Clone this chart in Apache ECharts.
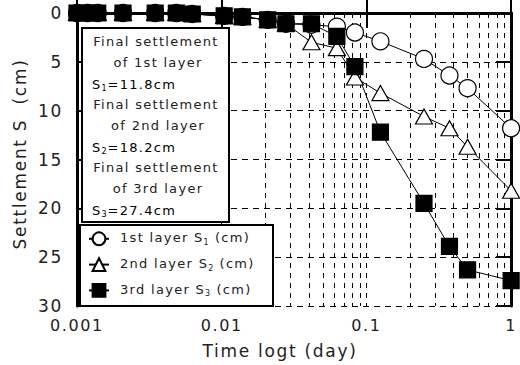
<!DOCTYPE html>
<html>
<head>
<meta charset="utf-8">
<script src="https://cdn.jsdelivr.net/npm/echarts@6/dist/echarts.min.js"></script>
<style>
  html, body { margin: 0; padding: 0; background: #fff; }
  #chart { width: 520px; height: 365px; }
  /* the source chart uses widely spaced lettering */
  #chart text { letter-spacing: 0.1em; }
</style>
</head>
<body>
<div id="chart"></div>
<script>
// time in days
var times = [0.001, 0.00118, 0.00139, 0.00208, 0.00347, 0.00486, 0.00625, 0.0104, 0.0139, 0.0208,
  0.0278, 0.0417, 0.0625, 0.0833, 0.125, 0.25, 0.375, 0.5, 1];
// settlement in cm
var layer1 = [0, 0, 0, 0, 0, 0, 0.1, 0.3, 0.4, 0.7, 1.1, 1.2, 1.4, 2.0, 2.9, 4.7, 6.4, 7.7, 11.8];
var layer2 = [0, 0, 0, 0, 0, 0, 0.1, 0.3, 0.4, 0.7, 1.1, 3.0, 3.6, 6.6, 8.2, 10.6, 11.8, 13.7, 18.2];
var layer3 = [0, 0, 0, 0, 0, 0, 0.1, 0.3, 0.4, 0.7, 1.1, 1.1, 2.4, 5.5, 12.2, 19.5, 23.9, 26.3, 27.4];

var layerNames = ['1st layer', '2nd layer', '3rd layer'];
var finalSettlement = [11.8, 18.2, 27.4];
var xTickLabels = ['0.001', '0.01', '0.1', '1'];
var decades = [0.001, 0.01, 0.1];
var minorSteps = [1, 2, 3, 4, 5, 6, 7, 8, 9];

var FONT = '"DejaVu Sans", Verdana, sans-serif';
var INK = '#222';
var SPACING = 0.1; // em, same as the css rule above

// make text measuring agree with the spaced lettering
var measureCtx = document.createElement('canvas').getContext('2d');
echarts.setPlatformAPI({
  measureText: function (text, font) {
    measureCtx.font = font;
    var m = measureCtx.measureText(text);
    var px = /(\d+(\.\d+)?)px/.exec(font);
    var size = px ? parseFloat(px[1]) : 12;
    return {
      width: m.width + size * SPACING * text.length,
      actualBoundingBoxAscent: m.actualBoundingBoxAscent,
      actualBoundingBoxDescent: m.actualBoundingBoxDescent,
      actualBoundingBoxLeft: m.actualBoundingBoxLeft,
      actualBoundingBoxRight: m.actualBoundingBoxRight
    };
  }
});

var gridTimes = [];
decades.forEach(function (d) {
  minorSteps.forEach(function (m) {
    gridTimes.push({ xAxis: d * m });
  });
});

var chart = echarts.init(document.getElementById('chart'), null, { renderer: 'svg' });

function subRich(size) {
  return {
    t: { fontFamily: FONT, fontSize: size, color: INK, lineHeight: 16, verticalAlign: 'top' },
    s: { fontFamily: FONT, fontSize: 8, color: INK, lineHeight: 10, verticalAlign: 'bottom', padding: [10, 0, 0, 0] }
  };
}

// text box with final settlements
var boxTexts = [];
layerNames.forEach(function (name, i) {
  var y0 = 41 + i * 63;
  boxTexts.push({
    type: 'text', x: 156, y: y0, z: 6,
    style: { text: 'Final settlement', font: '13px ' + FONT, fill: INK, textAlign: 'center', textVerticalAlign: 'middle' }
  });
  boxTexts.push({
    type: 'text', x: 158, y: y0 + 21, z: 6,
    style: { text: 'of ' + name, font: '13px ' + FONT, fill: INK, textAlign: 'center', textVerticalAlign: 'middle' }
  });
  boxTexts.push({
    type: 'text', x: 92, y: y0 + 44, z: 6,
    style: {
      text: '{t|S}{s|' + (i + 1) + '}{t|=' + finalSettlement[i].toFixed(1) + 'cm}',
      rich: subRich(13), textAlign: 'left', textVerticalAlign: 'middle'
    }
  });
});

function lineSeries(name, data, symbol, size, fill) {
  return {
    name: name,
    type: 'line',
    data: times.map(function (t, i) { return [t, data[i]]; }),
    symbol: symbol,
    symbolSize: size,
    showAllSymbol: true,
    lineStyle: { color: '#000', width: 1 },
    itemStyle: { color: fill, borderColor: '#000', borderWidth: 1.2 },
    emphasis: { disabled: true },
    clip: false,
    z: 2
  };
}

var series = [
  lineSeries(layerNames[0], layer1, 'circle', 17, '#fff'),
  lineSeries(layerNames[1], layer2, 'triangle', [17, 15], '#fff'),
  lineSeries(layerNames[2], layer3, 'rect', 16, '#000')
];
series[0].markLine = {
  silent: true,
  symbol: 'none',
  label: { show: false },
  lineStyle: { color: '#000', width: 1, type: [5, 5] },
  data: gridTimes,
  z: 1
};

var option = {
  animation: false,
  backgroundColor: '#fff',
  grid: { left: 77, right: 5, top: 13, bottom: 59 },
  xAxis: [{
    type: 'log',
    logBase: 10,
    min: 0.001,
    max: 1,
    axisLine: { lineStyle: { color: '#000', width: 3 } },
    axisTick: { inside: true, length: 15, lineStyle: { color: '#000', width: 2 } },
    axisLabel: {
      color: INK, fontFamily: FONT, fontSize: 16, margin: 11,
      formatter: function (v) { return xTickLabels[Math.round(Math.log10(v)) + 3]; }
    },
    splitLine: { show: false }
  }, {
    type: 'log',
    logBase: 10,
    position: 'top',
    min: 0.001,
    max: 1,
    axisLine: { lineStyle: { color: '#000', width: 3 } },
    axisTick: { inside: true, length: 15, lineStyle: { color: '#000', width: 2 } },
    axisLabel: { show: false },
    splitLine: { show: false }
  }],
  yAxis: [{
    type: 'value',
    inverse: true,
    min: 0,
    max: 30,
    interval: 5,
    axisLine: { show: true, lineStyle: { color: '#000', width: 3 } },
    axisTick: { show: true, inside: true, length: 15, lineStyle: { color: '#000', width: 2 } },
    axisLabel: { color: INK, fontFamily: FONT, fontSize: 17, margin: 14 },
    splitLine: { show: true, lineStyle: { color: '#000', width: 1, type: [6, 5] } }
  }, {
    type: 'value',
    position: 'right',
    inverse: true,
    min: 0,
    max: 30,
    interval: 5,
    axisLine: { show: true, lineStyle: { color: '#000', width: 3 } },
    axisTick: { show: true, inside: true, length: 15, lineStyle: { color: '#000', width: 2 } },
    axisLabel: { show: false },
    splitLine: { show: false }
  }],
  legend: {
    orient: 'vertical',
    left: 83,
    top: 223,
    itemWidth: 20,
    itemHeight: 16,
    itemGap: 7,
    z: 6,
    selectedMode: false,
    data: layerNames,
    formatter: function (name) {
      var i = layerNames.indexOf(name) + 1;
      return '{t|' + name + ' S}{s|' + i + '}{t| (cm)}';
    },
    textStyle: { rich: subRich(13), padding: [0, 0, 0, 6] }
  },
  graphic: [
    {
      type: 'rect', z: 5,
      shape: { x: 82, y: 28, width: 147, height: 194 },
      style: { fill: '#fff', stroke: '#000', lineWidth: 2 }
    },
    {
      type: 'rect', z: 5,
      shape: { x: 80, y: 225, width: 193, height: 81 },
      style: { fill: '#fff', stroke: '#000', lineWidth: 2 }
    },
    {
      type: 'text', x: 280, y: 351, z: 6,
      style: { text: 'Time logt (day)', font: '17px ' + FONT, fill: INK, textAlign: 'center', textVerticalAlign: 'middle' }
    },
    {
      type: 'text', x: 20, y: 154, z: 6, rotation: Math.PI / 2,
      style: { text: 'Settlement S  (cm)', font: '17px ' + FONT, fill: INK, textAlign: 'center', textVerticalAlign: 'middle' }
    }
  ].concat(boxTexts),
  series: series
};

chart.setOption(option);
</script>
</body>
</html>
